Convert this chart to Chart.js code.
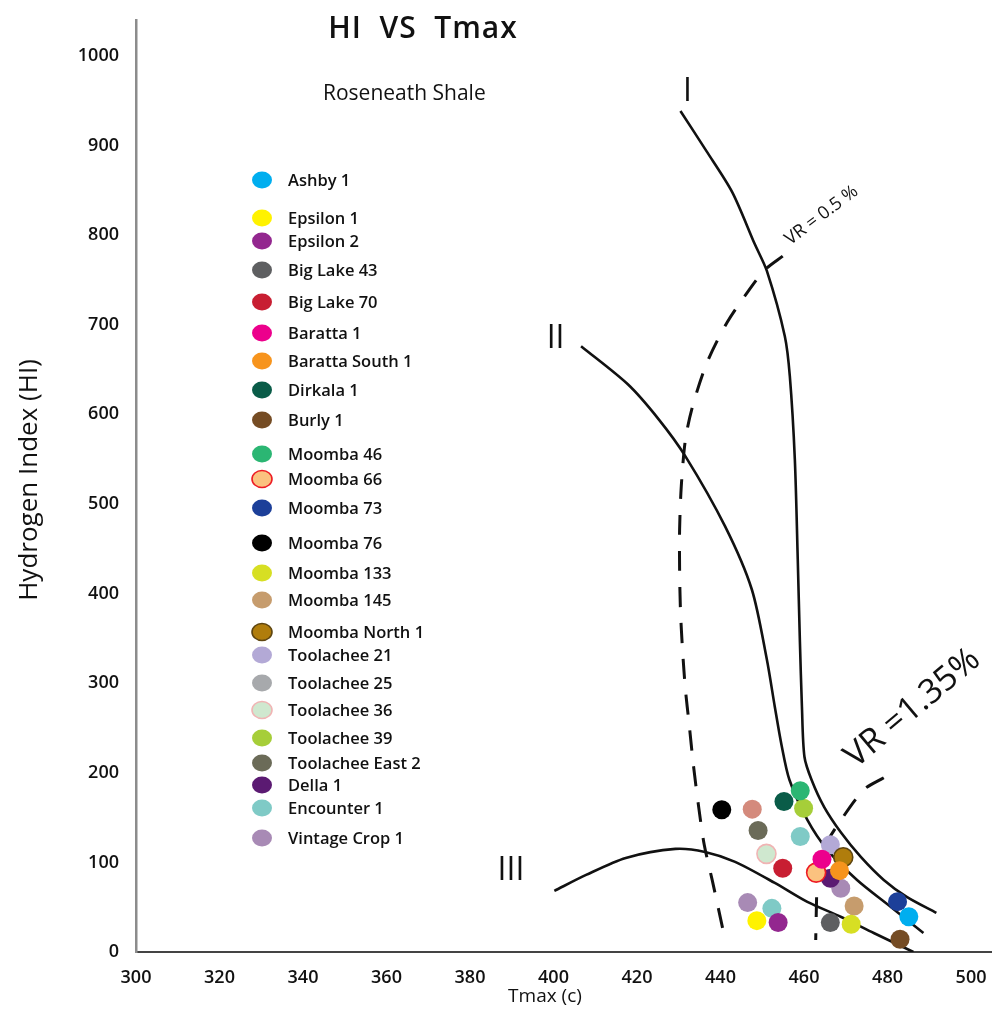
<!DOCTYPE html>
<html>
<head>
<meta charset="utf-8">
<title>HI VS Tmax</title>
<script src="https://cdn.jsdelivr.net/npm/chart.js@4.4.1/dist/chart.umd.min.js"></script>
<style>
    html, body { margin: 0; padding: 0; background: #fff; }
    #wrap { width: 1003px; height: 1016px; position: relative; }
</style>
</head>
<body>
<div id="wrap"><canvas id="hi-chart"></canvas></div>
<script>
// Axis ticks
const xTickValues = [300, 320, 340, 360, 380, 400, 420, 440, 460, 480, 500];
const yTickValues = [0, 100, 200, 300, 400, 500, 600, 700, 800, 900, 1000];

// Wells (legend order)
const wellNames = ['Ashby 1', 'Epsilon 1', 'Epsilon 2', 'Big Lake 43', 'Big Lake 70', 'Baratta 1',
    'Baratta South 1', 'Dirkala 1', 'Burly 1', 'Moomba 46', 'Moomba 66', 'Moomba 73', 'Moomba 76',
    'Moomba 133', 'Moomba 145', 'Moomba North 1', 'Toolachee 21', 'Toolachee 25', 'Toolachee 36',
    'Toolachee 39', 'Toolachee East 2', 'Della 1', 'Encounter 1', 'Vintage Crop 1'];
const wellTmax = [[485.1], [448.7], [453.8], [466.3], [454.9], [464.3],
    [468.5], [455.2], [483.0], [459.1], [462.9], [482.4], [440.3],
    [471.3], [447.6, 472.0], [469.4], [466.3], [], [451.0],
    [459.9], [449.0], [466.3], [459.1, 452.3], [468.8, 446.5]];
const wellHI = [[39.4], [35.0], [33.0], [32.8], [93.5], [103.6],
    [90.8], [168.0], [14.2], [180.0], [88.6], [56.2], [158.7],
    [30.9], [159.4, 51.4], [105.8], [119.6], [], [109.5],
    [160.5], [135.5], [82.3], [128.8, 48.7], [71.1, 55.1]];

// Kerogen type curves and vitrinite reflectance lines
const typeITmax = [430.4, 436.6, 442.8, 448.2, 451.1, 455.4, 456.6, 457.8, 458.5, 459.0, 459.5, 460.1, 461.8, 464.8, 468.9, 473.6, 479.1, 484.6, 491.7];
const typeIHI = [938.5, 894.0, 848.0, 790.0, 760.0, 687.2, 642.5, 549.7, 438.0, 348.6, 273.7, 217.9, 192.2, 162.0, 133.0, 106.1, 80.4, 61.5, 43.6];
const typeIITmax = [406.6, 417.8, 425.2, 431.6, 441.1, 447.5, 451.1, 453.0, 454.6, 456.5, 460.8, 465.6, 472.7, 480.8, 488.6];
const typeIIHI = [676.0, 633.5, 594.4, 553.1, 474.9, 404.5, 326.3, 273.7, 231.3, 192.2, 147.5, 114.0, 80.4, 50.3, 21.2];
const typeIIITmax = [400.2, 407.8, 417.3, 429.2, 436.3, 443.5, 453.0, 460.8, 468.9, 476.7, 486.2];
const typeIIIHI = [68.2, 86.0, 105.0, 115.1, 111.7, 100.6, 77.1, 55.9, 39.1, 21.2, 0];
const vr05Tmax = [454.9, 450.8, 447.5, 441.6, 436.8, 433.3, 431.6, 430.6, 430.2, 430.2, 430.4, 430.9, 431.6, 432.5, 433.5, 434.7, 436.1, 438.0, 440.6];
const vr05HI = [776.5, 762.0, 743.0, 702.8, 658.1, 608.9, 572.0, 519.6, 471.5, 426.8, 382.1, 337.4, 292.7, 253.6, 208.9, 164.2, 119.6, 80.4, 24.6];
const vr135Tmax = [479.1, 474.3, 468.4, 464.8, 463.2, 463.0, 462.8];
const vr135HI = [194.4, 181.0, 144.1, 116.2, 88.3, 58.1, 13.4];

// Colours
const wellColors = ['#00aeef', '#fff200', '#93278f', '#5e5f61', '#c81e32', '#ec008c',
    '#f7941d', '#0a5c48', '#754c24', '#2bb673', '#fbc27f', '#1c3f99', '#000000',
    '#d7df23', '#c69c6d', '#b07d0c', '#b3a9d6', '#a7a9ac', '#cfe8cf',
    '#a6ce39', '#6b6b58', '#5b1a72', '#7fcac6', '#a88ab5'];
const wellBorders = {
    'Moomba 66': '#ed1c24',
    'Moomba North 1': '#5e4510',
    'Toolachee 36': '#f0b4b4'
};
// first Moomba 145 dot is a more salmon shade in the source figure
const pointColorOverride = { 'Moomba 145': ['#d48a7c', '#c69c6d'] };

const FONT = "'Open Sans', 'DejaVu Sans', sans-serif";

function toPoints(xs, ys) {
    return xs.map((x, i) => ({ x: x, y: ys[i] }));
}

function curve(label, xs, ys, dashed) {
    return {
        label: label,
        data: toPoints(xs, ys),
        showLine: true,
        borderColor: '#111',
        borderWidth: dashed ? 3 : 2.6,
        borderDash: dashed ? [20, 16] : [],
        tension: 0.28,
        pointRadius: 0,
        fill: false,
        order: 10,
        isCurve: true
    };
}

const datasets = [
    curve('Type I', typeITmax, typeIHI, false),
    curve('Type II', typeIITmax, typeIIHI, false),
    curve('Type III', typeIIITmax, typeIIIHI, false),
    curve('VR 0.5%', vr05Tmax, vr05HI, true),
    curve('VR 1.35%', vr135Tmax, vr135HI, true)
];

wellNames.forEach((name, i) => {
    const border = wellBorders[name];
    datasets.push({
        label: name,
        data: toPoints(wellTmax[i], wellHI[i]),
        backgroundColor: pointColorOverride[name] || wellColors[i],
        borderColor: border || wellColors[i],
        borderWidth: border ? 1.6 : 0,
        pointRadius: 9.5,
        pointHoverRadius: 9.5,
        order: 0,
        legendColor: wellColors[i],
        legendBorder: border || null
    });
});

// legend row centres as laid out in the source figure
const legendRowY = [180, 218, 241, 270, 302, 333, 361, 390, 420, 454, 479, 508, 543, 573, 600, 632, 655, 683, 710, 738, 763, 785, 808, 838];

const overlayPlugin = {
    id: 'overlay',
    afterDraw(chart) {
        const ctx = chart.ctx;
        const xs = chart.scales.x;
        const ys = chart.scales.y;
        ctx.save();
        ctx.fillStyle = '#111';

        // Title and subtitle
        ctx.font = '600 30px ' + FONT;
        ctx.textAlign = 'center';
        ctx.textBaseline = 'alphabetic';
        ctx.letterSpacing = '1px';
        ctx.fillText('HI  VS  Tmax', 423, 38);
        ctx.letterSpacing = '0px';
        ctx.font = '400 21px ' + FONT;
        ctx.textAlign = 'left';
        ctx.fillText('Roseneath Shale', 323, 100);

        // Axis titles
        ctx.font = '400 19px ' + FONT;
        ctx.textAlign = 'center';
        ctx.textBaseline = 'middle';
        ctx.fillText('Tmax (c)', 545, 997);
        ctx.save();
        ctx.translate(30, 480);
        ctx.rotate(-Math.PI / 2);
        ctx.font = '400 26px ' + FONT;
        ctx.fillText('Hydrogen Index (HI)', 0, 0);
        ctx.restore();

        // Kerogen type labels
        ctx.font = '400 32px ' + FONT;
        ctx.fillText('I', xs.getPixelForValue(432.1), ys.getPixelForValue(960));
        ctx.fillText('II', xs.getPixelForValue(400.5), ys.getPixelForValue(684));
        ctx.fillText('III', xs.getPixelForValue(389.8), ys.getPixelForValue(91));

        // VR labels
        ctx.save();
        ctx.translate(xs.getPixelForValue(464.2), ys.getPixelForValue(822));
        ctx.rotate(-37 * Math.PI / 180);
        ctx.font = '400 18px ' + FONT;
        ctx.fillText('VR = 0.5 %', 0, 0);
        ctx.restore();
        ctx.save();
        ctx.translate(xs.getPixelForValue(486.0), ys.getPixelForValue(272));
        ctx.rotate(-40 * Math.PI / 180);
        ctx.font = '400 34px ' + FONT;
        ctx.fillText('VR =1.35%', 0, 0);
        ctx.restore();

        // Legend
        ctx.textAlign = 'left';
        ctx.font = '600 16.5px ' + FONT;
        let row = 0;
        chart.data.datasets.forEach(ds => {
            if (ds.isCurve) return;
            const y = legendRowY[row++];
            ctx.beginPath();
            ctx.ellipse(262, y, 10, 8.5, 0, 0, Math.PI * 2);
            ctx.fillStyle = ds.legendColor;
            ctx.fill();
            if (ds.legendBorder) {
                ctx.lineWidth = 1.6;
                ctx.strokeStyle = ds.legendBorder;
                ctx.stroke();
            }
            ctx.fillStyle = '#111';
            ctx.fillText(ds.label, 288, y + 1);
        });
        ctx.restore();
    }
};

const ctx = document.getElementById('hi-chart').getContext('2d');
new Chart(ctx, {
    type: 'scatter',
    data: { datasets: datasets },
    plugins: [overlayPlugin],
    options: {
        responsive: true,
        maintainAspectRatio: false,
        animation: false,
        events: [],
        layout: { padding: { top: 20, right: 3, left: 0, bottom: 0 } },
        plugins: {
            legend: { display: false },
            title: { display: false },
            tooltip: { enabled: false }
        },
        scales: {
            x: {
                type: 'linear',
                min: 300,
                max: 505,
                grid: { display: false },
                border: { display: true, color: '#444', width: 2 },
                ticks: {
                    color: '#111',
                    padding: 7,
                    font: { family: FONT, size: 18, weight: '600' },
                    callback: v => String(v)
                },
                afterBuildTicks: scale => { scale.ticks = xTickValues.map(v => ({ value: v })); },
                afterFit: scale => { scale.height = 64; }
            },
            y: {
                type: 'linear',
                min: 0,
                max: 1040,
                grid: { display: false },
                border: { display: true, color: '#8c8c8c', width: 2.5 },
                ticks: {
                    color: '#111',
                    padding: 9,
                    font: { family: FONT, size: 18, weight: '600' },
                    callback: v => String(v)
                },
                afterBuildTicks: scale => { scale.ticks = yTickValues.map(v => ({ value: v })); },
                afterFit: scale => { scale.width = 136; }
            }
        }
    }
});
</script>
</body>
</html>
